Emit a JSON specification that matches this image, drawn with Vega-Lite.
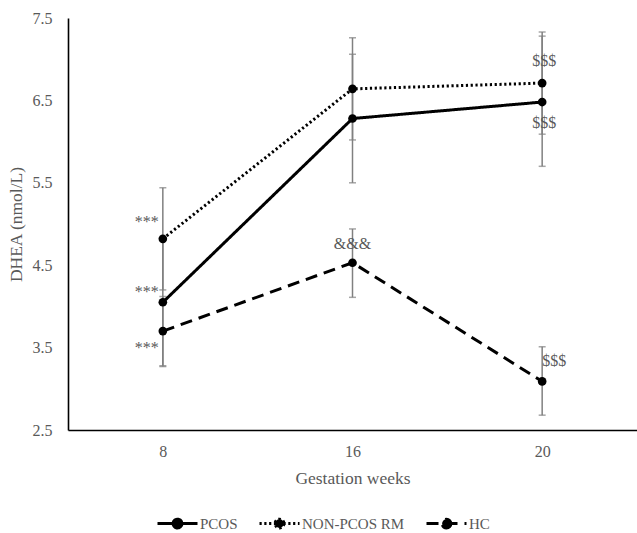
{
  "$schema": "https://vega.github.io/schema/vega-lite/v6.json",
  "autosize": {"type": "none"},
  "padding": {"left": 68, "top": 18, "right": 0, "bottom": 103},
  "width": 569,
  "height": 412,
  "background": "white",
  "config": {
    "view": {"stroke": null},
    "font": "Liberation Serif",
    "text": {"font": "Liberation Serif"}
  },
  "datasets": {
    "means": [
      {"group": "PCOS", "week": "8", "value": 4.05, "lo": 3.27, "hi": 4.83},
      {"group": "PCOS", "week": "16", "value": 6.28, "lo": 5.5, "hi": 7.06},
      {"group": "PCOS", "week": "20", "value": 6.48, "lo": 5.7, "hi": 7.28},
      {"group": "NON-PCOS RM", "week": "8", "value": 4.82, "lo": 4.2, "hi": 5.44},
      {"group": "NON-PCOS RM", "week": "16", "value": 6.64, "lo": 6.02, "hi": 7.26},
      {"group": "NON-PCOS RM", "week": "20", "value": 6.71, "lo": 6.09, "hi": 7.33},
      {"group": "HC", "week": "8", "value": 3.7, "lo": 3.28, "hi": 4.12},
      {"group": "HC", "week": "16", "value": 4.53, "lo": 4.11, "hi": 4.94},
      {"group": "HC", "week": "20", "value": 3.09, "lo": 2.68, "hi": 3.51}
    ],
    "notes": [
      {"group": "NON-PCOS RM", "week": "8", "pos": 5.02, "label": "***", "kind": "star"},
      {"group": "PCOS", "week": "8", "pos": 4.18, "label": "***", "kind": "star"},
      {"group": "HC", "week": "8", "pos": 3.5, "label": "***", "kind": "star"},
      {"group": "HC", "week": "16", "pos": 4.76, "label": "&&&", "kind": "amp"},
      {"group": "NON-PCOS RM", "week": "20", "pos": 6.98, "label": "$$$", "kind": "dollar"},
      {"group": "PCOS", "week": "20", "pos": 6.23, "label": "$$$", "kind": "dollar"},
      {"group": "HC", "week": "20", "pos": 3.34, "label": "$$$", "kind": "dollarhc"}
    ]
  },
  "encoding": {
    "x": {
      "field": "week", "type": "ordinal", "sort": ["8", "16", "20"],
      "scale": {"type": "point", "padding": 0.5},
      "axis": {
        "title": "Gestation weeks", "labelAngle": 0, "ticks": false, "tickSize": 0,
        "domainColor": "black", "domainWidth": 1.6,
        "labelFont": "Liberation Serif", "labelFontSize": 16, "labelColor": "#595959", "labelPadding": 13,
        "titleFont": "Liberation Serif", "titleFontSize": 17.5, "titleFontWeight": "normal", "titleColor": "#595959", "titlePadding": 10
      }
    }
  },
  "layer": [
    {
      "data": {"name": "means"},
      "mark": {"type": "rule", "color": "#808080", "strokeWidth": 1.5},
      "encoding": {
        "y": {"field": "lo", "type": "quantitative"},
        "y2": {"field": "hi"}
      }
    },
    {
      "data": {"name": "means"},
      "mark": {"type": "tick", "color": "#808080", "thickness": 1.5, "size": 7, "orient": "horizontal"},
      "encoding": {"y": {"field": "lo", "type": "quantitative"}}
    },
    {
      "data": {"name": "means"},
      "mark": {"type": "tick", "color": "#808080", "thickness": 1.5, "size": 7, "orient": "horizontal"},
      "encoding": {"y": {"field": "hi", "type": "quantitative"}}
    },
    {
      "data": {"name": "means"},
      "mark": {"type": "line", "color": "black", "strokeWidth": 3},
      "encoding": {
        "y": {
          "field": "value", "type": "quantitative",
          "scale": {"domain": [2.5, 7.5], "nice": false, "zero": false},
          "axis": {
            "title": "DHEA (nmol/L)", "values": [2.5, 3.5, 4.5, 5.5, 6.5, 7.5], "format": ".1f",
            "grid": false, "ticks": false, "tickSize": 0,
            "domainColor": "black", "domainWidth": 1.6,
            "labelFont": "Liberation Serif", "labelFontSize": 16, "labelColor": "#595959", "labelPadding": 16,
            "titleFont": "Liberation Serif", "titleFontSize": 17.5, "titleFontWeight": "normal", "titleColor": "#595959", "titlePadding": 7
          }
        },
        "strokeDash": {
          "field": "group", "type": "nominal",
          "scale": {"domain": ["PCOS", "NON-PCOS RM", "HC"], "range": [[1, 0], [2.2, 2.6], [12, 7]]},
          "legend": {
            "title": null, "orient": "none", "direction": "horizontal", "legendX": 88, "legendY": 484,
            "symbolType": "M-1,0L1,0M0.22,0A0.22,0.22,0,1,1,-0.22,0A0.22,0.22,0,1,1,0.22,0Z",
            "symbolSize": 1600, "symbolStrokeWidth": 3, "symbolStrokeColor": "black", "symbolFillColor": "black",
            "labelFont": "Liberation Serif", "labelFontSize": 15, "labelColor": "#595959", "labelOffset": 1,
            "columnPadding": 15
          }
        },
        "detail": {"field": "group"}
      }
    },
    {
      "data": {"name": "means"},
      "mark": {"type": "point", "filled": true, "color": "black", "size": 75, "opacity": 1},
      "encoding": {"y": {"field": "value", "type": "quantitative"}}
    },
    {
      "data": {"name": "notes"},
      "transform": [{"filter": "datum.kind === 'star'"}],
      "mark": {"type": "text", "font": "Liberation Serif", "fontSize": 16, "color": "#595959", "dx": -16},
      "encoding": {"y": {"field": "pos", "type": "quantitative"}, "text": {"field": "label"}}
    },
    {
      "data": {"name": "notes"},
      "transform": [{"filter": "datum.kind === 'amp'"}],
      "mark": {"type": "text", "font": "Liberation Serif", "fontSize": 16, "color": "#595959", "dx": 0},
      "encoding": {"y": {"field": "pos", "type": "quantitative"}, "text": {"field": "label"}}
    },
    {
      "data": {"name": "notes"},
      "transform": [{"filter": "datum.kind === 'dollar'"}],
      "mark": {"type": "text", "font": "Liberation Serif", "fontSize": 16, "color": "#595959", "dx": 2},
      "encoding": {"y": {"field": "pos", "type": "quantitative"}, "text": {"field": "label"}}
    },
    {
      "data": {"name": "notes"},
      "transform": [{"filter": "datum.kind === 'dollarhc'"}],
      "mark": {"type": "text", "font": "Liberation Serif", "fontSize": 16, "color": "#595959", "dx": 12},
      "encoding": {"y": {"field": "pos", "type": "quantitative"}, "text": {"field": "label"}}
    }
  ]
}
